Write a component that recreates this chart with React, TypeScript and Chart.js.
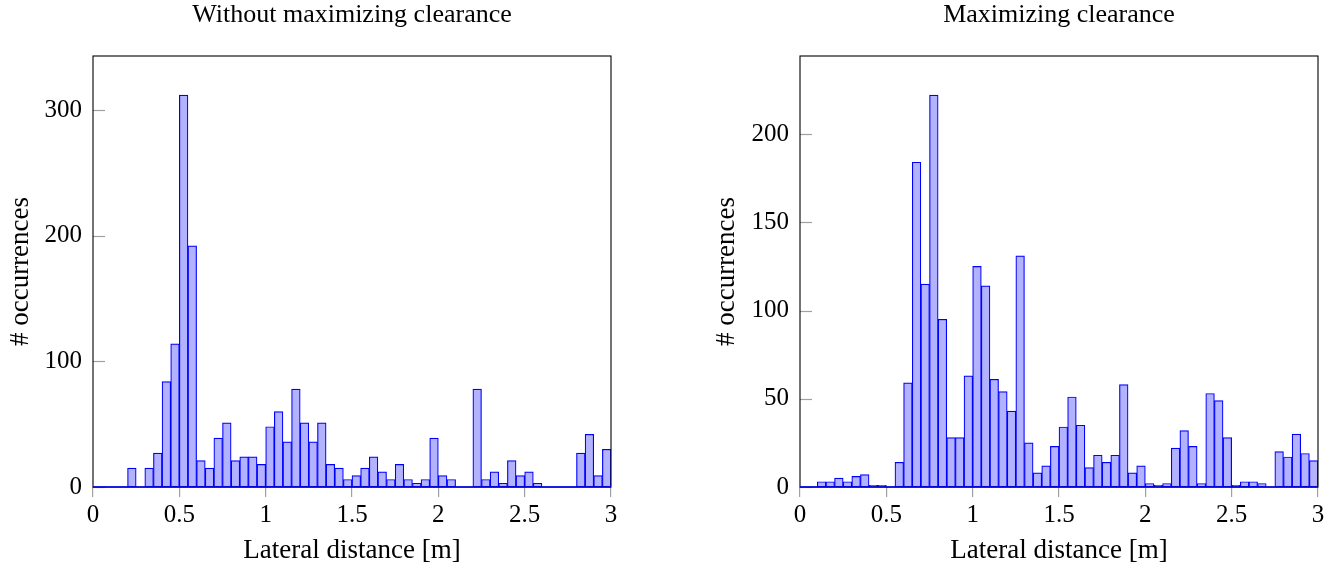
import React, { useEffect, useRef } from "react";
import { Chart, registerables } from "chart.js";

Chart.register(...registerables);
Chart.defaults.font.family = "'Liberation Serif', 'Times New Roman', serif";

// ---- data ----
const binWidth = 0.05;
const binCount = 60;
const binStarts = Array.from({ length: binCount }, (_, i) => Math.round(i * binWidth * 100) / 100);

const countsWithout = [
  0, 0, 0, 0, 15, 0, 15, 27, 84, 114,
  312, 192, 21, 15, 39, 51, 21, 24, 24, 18,
  48, 60, 36, 78, 51, 36, 51, 18, 15, 6,
  9, 15, 24, 12, 6, 18, 6, 3, 6, 39,
  9, 6, 0, 0, 78, 6, 12, 3, 21, 9,
  12, 3, 0, 0, 0, 0, 27, 42, 9, 30,
];

const countsMaximizing = [
  0, 0, 3, 3, 5, 3, 6, 7, 1, 1,
  0, 14, 59, 184, 115, 222, 95, 28, 28, 63,
  125, 114, 61, 54, 43, 131, 25, 8, 12, 23,
  34, 51, 35, 11, 18, 14, 18, 58, 8, 12,
  2, 1, 2, 22, 32, 23, 2, 53, 49, 28,
  1, 3, 3, 2, 0, 20, 17, 30, 19, 15,
];

const xTickValues = [0, 0.5, 1, 1.5, 2, 2.5, 3];
const yTicksWithout = [0, 100, 200, 300];
const yTicksMaximizing = [0, 50, 100, 150, 200];

const titleWithout = "Without maximizing clearance";
const titleMaximizing = "Maximizing clearance";
const xLabel = "Lateral distance [m]";
const yLabel = "# occurrences";

// ---- styles ----
const BAR_FILL = "rgb(178,178,255)";
const BAR_EDGE = "rgb(0,0,255)";
const TICK_GRAY = "#a0a0a0";

const framePlugin = {
  id: "frame",
  afterDatasetsDraw(chart: any) {
    const { ctx, chartArea: a, scales } = chart;
    const y = scales.y;
    ctx.save();
    ctx.strokeStyle = TICK_GRAY;
    ctx.lineWidth = 1.2;
    y.ticks.forEach((t: any) => {
      const py = Math.round(y.getPixelForValue(t.value)) + 0.5;
      ctx.beginPath();
      ctx.moveTo(a.left, py);
      ctx.lineTo(a.left + 12, py);
      ctx.stroke();
    });
    ctx.strokeStyle = "#000";
    ctx.lineWidth = 1.1;
    ctx.strokeRect(a.left, a.top, a.right - a.left, a.bottom - a.top);
    ctx.strokeStyle = BAR_EDGE;
    ctx.lineWidth = 1.3;
    const zy = y.getPixelForValue(0);
    ctx.beginPath();
    ctx.moveTo(a.left, zy);
    ctx.lineTo(a.right, zy);
    ctx.stroke();
    ctx.restore();
  },
};

type HistProps = {
  left: number;
  width: number;
  counts: number[];
  yTicks: number[];
  title: string;
  yAxisWidth: number;
  rightPad: number;
  yTitlePad: number;
};

function Histogram({ left, width, counts, yTicks, title, yAxisWidth, rightPad, yTitlePad }: HistProps) {
  const ref = useRef<HTMLCanvasElement>(null);
  useEffect(() => {
    const yMax = Math.max(...counts) * 1.1;
    const data = binStarts.map((b, i) => ({ x: b + binWidth / 2, y: counts[i] }));
    const chart = new Chart(ref.current!, {
      type: "bar",
      data: {
        datasets: [
          {
            data,
            backgroundColor: BAR_FILL,
            borderColor: BAR_EDGE,
            borderWidth: 1.2,
            barPercentage: 1,
            categoryPercentage: 1,
            borderSkipped: false,
          } as any,
        ],
      },
      plugins: [framePlugin],
      options: {
        responsive: false,
        animation: false,
        events: [],
        layout: { padding: { left: 0, right: rightPad, top: 0, bottom: 0 } },
        plugins: {
          legend: { display: false },
          tooltip: { enabled: false },
          title: {
            display: true,
            text: title,
            color: "#000",
            fullSize: false,
            font: { size: 26, weight: "normal" as any, lineHeight: 1.2 },
            padding: { top: 0, bottom: 24.8 },
          },
        },
        scales: {
          x: {
            type: "linear",
            min: 0,
            max: 3,
            offset: false,
            afterBuildTicks: (s: any) => {
              s.ticks = xTickValues.map((v) => ({ value: v }));
            },
            afterFit: (s: any) => {
              s.height = 83;
            },
            grid: {
              offset: false,
              drawOnChartArea: false,
              drawTicks: true,
              tickLength: 10,
              color: TICK_GRAY,
              lineWidth: 1.2,
            },
            border: { display: false },
            ticks: {
              color: "#000",
              font: { size: 25 },
              padding: 3,
              maxRotation: 0,
              autoSkip: false,
              callback: (v: any) => String(v),
            },
            title: {
              display: true,
              text: xLabel,
              color: "#000",
              font: { size: 27 },
              padding: { top: 0, bottom: 2.8 },
            },
          },
          y: {
            type: "linear",
            min: 0,
            max: yMax,
            afterBuildTicks: (s: any) => {
              s.ticks = yTicks.map((v) => ({ value: v }));
            },
            afterFit: (s: any) => {
              s.width = yAxisWidth;
            },
            grid: { display: false, drawTicks: false },
            border: { display: false },
            ticks: {
              color: "#000",
              font: { size: 25 },
              padding: 11,
              callback: (v: any) => String(v),
            },
            title: {
              display: true,
              text: yLabel,
              color: "#000",
              font: { size: 27 },
              padding: { top: yTitlePad, bottom: 0 },
            },
          },
        },
      },
    } as any);
    return () => chart.destroy();
  }, []);
  return (
    <canvas
      ref={ref}
      width={width}
      height={570}
      style={{ position: "absolute", left, top: 0, width, height: 570, display: "block" }}
    />
  );
}

export default function App() {
  return (
    <div style={{ position: "absolute", left: 0, top: 0, width: 1343, height: 570, background: "#fff", overflow: "hidden" }}>
      <Histogram
        left={0}
        width={671}
        counts={countsWithout}
        yTicks={yTicksWithout}
        title={titleWithout}
        yAxisWidth={93}
        rightPad={60}
        yTitlePad={4.8}
      />
      <Histogram
        left={690}
        width={653}
        counts={countsMaximizing}
        yTicks={yTicksMaximizing}
        title={titleMaximizing}
        yAxisWidth={110}
        rightPad={25}
        yTitlePad={20.8}
      />
    </div>
  );
}
